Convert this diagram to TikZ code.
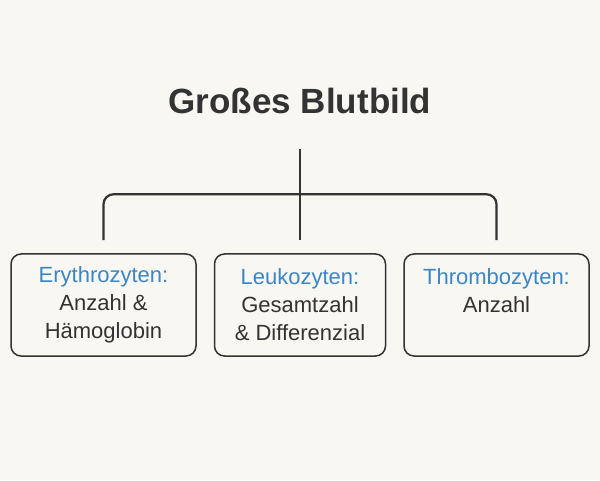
\documentclass[tikz,border=0pt]{standalone}
\usepackage{fontspec}
\setmainfont{Liberation Sans}
\usepackage{tikz}
\usetikzlibrary{positioning}
\definecolor{bgcol}{HTML}{F9F7F2}
\definecolor{inkcol}{HTML}{333333}
\definecolor{headblue}{HTML}{3A86C6}
\tikzset{category/.style={draw=inkcol, line width=1.5pt, rounded corners=10pt, fill=bgcol,
    minimum height=102pt, inner sep=0pt, align=center, text=inkcol,
    font=\fontsize{22}{28}\selectfont}}
\tikzset{branch/.style={draw=inkcol, line width=2.2pt}}
\newcommand{\cathead}[1]{\textcolor{headblue}{#1}}

\begin{document}
\begin{tikzpicture}[x=1pt, y=1pt]
      \fill[bgcol] (0,0) rectangle (600,480);
      \useasboundingbox (0,0) rectangle (600,480);

      \node[font=\bfseries\fontsize{35}{40}\selectfont, text=inkcol, inner sep=0pt] (blutbild) at (300,379.5) {Großes Blutbild};

      \node[category, minimum width=171pt] (leuko) at (300,175) {\cathead{Leukozyten:}\\Gesamtzahl\\\& Differenzial};
      \node[category, minimum width=185pt] (ery) [left=17pt of leuko] {\cathead{Erythrozyten:}\\Anzahl \&\\Hämoglobin};
      \node[category, minimum width=185pt] (thrombo) [right=17pt of leuko] {\cathead{Thrombozyten:}\\Anzahl\\\phantom{A}};

      \draw[branch] ([yshift=-35pt]blutbild.south) -- ([yshift=13pt]leuko.north);
      \draw[branch, rounded corners=10pt] ([yshift=13pt]ery.north) |- ([yshift=59pt]leuko.north) -| ([yshift=13pt]thrombo.north);

    \end{tikzpicture}
\end{document}
